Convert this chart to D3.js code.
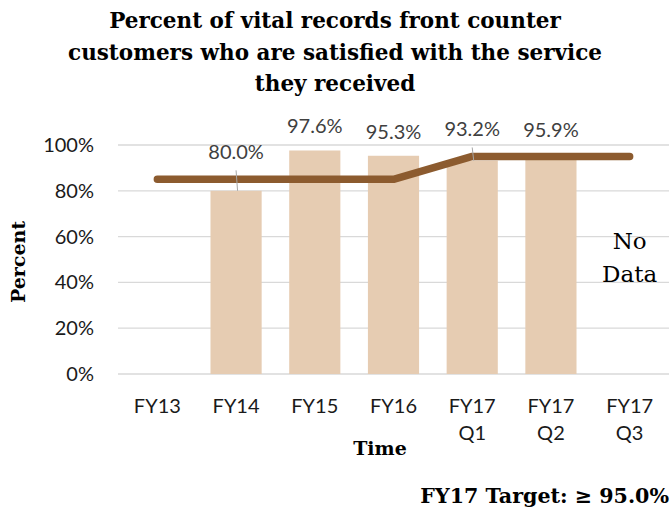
<!DOCTYPE html>
<html>
<head>
<meta charset="utf-8">
<script src="https://cdn.jsdelivr.net/npm/d3@7"></script>
<style>
  body { margin: 0; background: #fff; }
  svg { display: block; }
</style>
</head>
<body>
<script>
// chart data
var categories = ["FY13", "FY14", "FY15", "FY16", "FY17 Q1", "FY17 Q2", "FY17 Q3"];
var satisfied = [null, 0.800, 0.976, 0.953, 0.932, 0.959, null];
var target = [0.85, 0.85, 0.85, 0.85, 0.95, 0.95, 0.95];
var yTicks = [0, 0.2, 0.4, 0.6, 0.8, 1.0];
var titleLines = ["Percent of vital records front counter",
                  "customers who are satisfied with the service",
                  "they received"];

var width = 672, height = 513;
var margin = {top: 145, right: 3, bottom: 139, left: 118};

var svg = d3.select("body").append("svg")
    .attr("width", width)
    .attr("height", height);

var serif = "'DejaVu Serif', serif";
var sans = "Lato, 'Open Sans', sans-serif";

// scales
var x = d3.scaleBand()
    .domain(categories)
    .range([margin.left, width - margin.right])
    .paddingInner(0.35)
    .paddingOuter(0.175);

var y = d3.scaleLinear()
    .domain([0, 1])
    .range([height - margin.bottom, margin.top]);

// title
svg.append("g").selectAll("text")
    .data(titleLines)
    .enter().append("text")
    .attr("x", 335)
    .attr("y", function(d, i) { return 28 + i * 31.5; })
    .attr("text-anchor", "middle")
    .style("font-family", serif)
    .style("font-weight", "bold")
    .style("font-size", "21.5px")
    .style("fill", "#000")
    .text(function(d) { return d; });

// gridlines
svg.append("g").selectAll("line")
    .data(yTicks)
    .enter().append("line")
    .attr("x1", margin.left)
    .attr("x2", width - margin.right)
    .attr("y1", function(d) { return y(d); })
    .attr("y2", function(d) { return y(d); })
    .style("stroke", "#d9d9d9")
    .style("stroke-width", 1.3);

// y axis labels
var yAxis = svg.append("g")
    .attr("transform", "translate(" + (margin.left - 24) + ",0)")
    .call(d3.axisLeft(y).tickValues(yTicks).tickFormat(d3.format(".0%")).tickSize(0).tickPadding(0));
yAxis.select(".domain").remove();
yAxis.selectAll("text")
    .style("font-family", sans)
    .style("font-size", "20px")
    .style("fill", "#1a1a1a");

// x axis labels (two lines where needed)
var xAxis = svg.append("g")
    .attr("transform", "translate(0," + y(0) + ")")
    .call(d3.axisBottom(x).tickSize(0).tickFormat(""));
xAxis.select(".domain").remove();
xAxis.selectAll(".tick").append("text")
    .attr("text-anchor", "middle")
    .style("font-family", sans)
    .style("font-size", "20px")
    .style("fill", "#1a1a1a")
    .each(function(d) {
      var parts = d.split(" ");
      var t = d3.select(this);
      parts.forEach(function(p, i) {
        t.append("tspan")
          .attr("x", 0)
          .attr("y", 39 + i * 27)
          .text(p);
      });
    });

// bars
var barData = categories.map(function(c, i) { return {cat: c, v: satisfied[i], t: target[i]}; });

svg.append("g").selectAll("rect")
    .data(barData.filter(function(d) { return d.v != null; }))
    .enter().append("rect")
    .attr("x", function(d) { return x(d.cat); })
    .attr("width", x.bandwidth())
    .attr("y", function(d) { return y(d.v); })
    .attr("height", function(d) { return y(0) - y(d.v); })
    .style("fill", "#e6ccb2");

// target line
var line = d3.line()
    .x(function(d) { return x(d.cat) + x.bandwidth() / 2; })
    .y(function(d) { return y(d.t); });

svg.append("path")
    .datum(barData)
    .attr("d", line)
    .style("fill", "none")
    .style("stroke", "#8c5b2f")
    .style("stroke-width", 7.5)
    .style("stroke-linecap", "round")
    .style("stroke-linejoin", "round");

// data labels; if the target line sits just above the bar, lift the label over it with a leader line
var labels = svg.append("g");
barData.filter(function(d) { return d.v != null; }).forEach(function(d) {
  var cx = x(d.cat) + x.bandwidth() / 2;
  var lifted = d.t > d.v && y(d.t) > y(d.v) - 30;
  var by = lifted ? y(d.t) - 20 : y(d.v) - 17;
  if (lifted) {
    labels.append("line")
      .attr("x1", cx)
      .attr("x2", cx + 1.5)
      .attr("y1", by + 11)
      .attr("y2", y(d.v))
      .style("stroke", "#a6a6a6")
      .style("stroke-width", 1);
  }
  labels.append("text")
    .attr("x", cx)
    .attr("y", by)
    .attr("text-anchor", "middle")
    .style("font-family", sans)
    .style("font-size", "20px")
    .style("fill", "#404040")
    .text(d3.format(".1%")(d.v));
});

// "No Data" note in the empty category
var ndx = x("FY17 Q3") + x.bandwidth() / 2;
var noData = svg.append("text")
    .attr("text-anchor", "middle")
    .style("font-family", serif)
    .style("font-size", "23px")
    .style("fill", "#000");
noData.append("tspan").attr("x", ndx).attr("y", 249).text("No");
noData.append("tspan").attr("x", ndx).attr("y", 282).text("Data");

// axis titles
svg.append("text")
    .attr("transform", "rotate(-90)")
    .attr("x", -262)
    .attr("y", 25)
    .attr("text-anchor", "middle")
    .style("font-family", serif)
    .style("font-weight", "bold")
    .style("font-size", "19px")
    .text("Percent");

svg.append("text")
    .attr("x", 380)
    .attr("y", 455)
    .attr("text-anchor", "middle")
    .style("font-family", serif)
    .style("font-weight", "bold")
    .style("font-size", "19px")
    .text("Time");

// target note
svg.append("text")
    .attr("x", 669)
    .attr("y", 503)
    .attr("text-anchor", "end")
    .style("font-family", serif)
    .style("font-weight", "bold")
    .style("font-size", "20.6px")
    .text("FY17 Target: \u2265 95.0%");
</script>
</body>
</html>
